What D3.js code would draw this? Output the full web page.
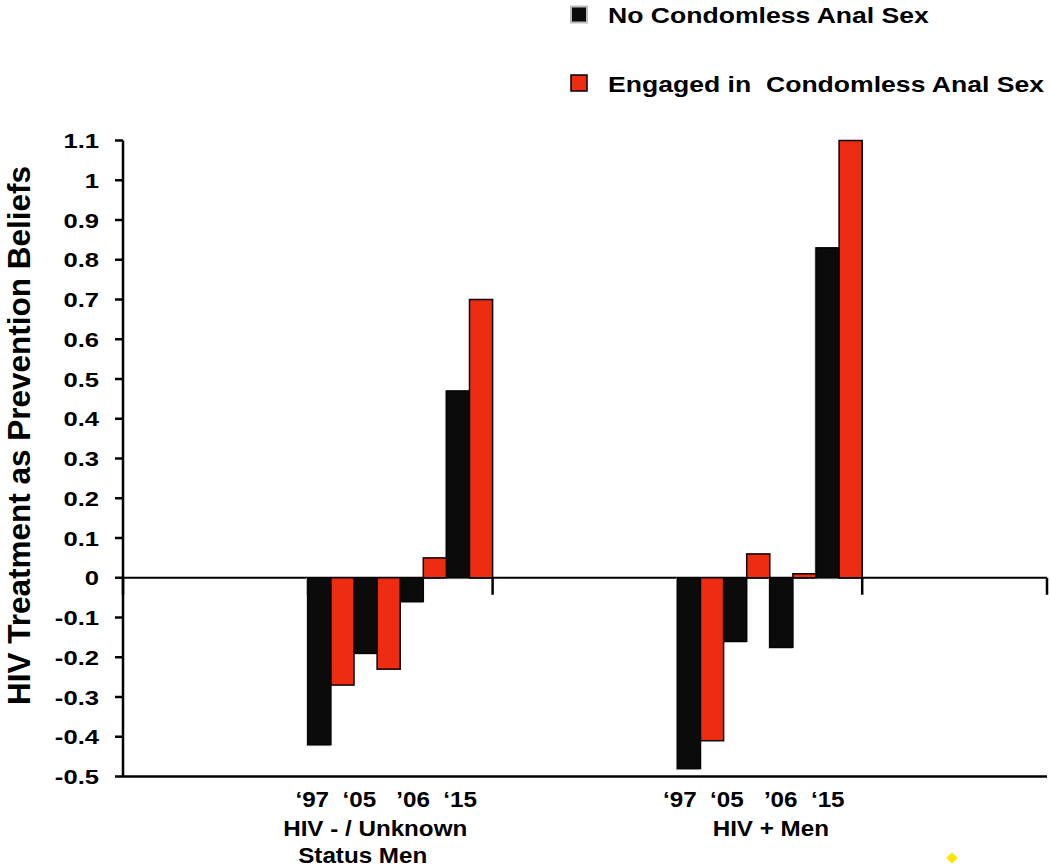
<!DOCTYPE html>
<html><head><meta charset="utf-8">
<script src="https://cdn.jsdelivr.net/npm/d3@7"></script>
<style>
body{margin:0;background:#fff}
text{font-family:"Liberation Sans",Arial,Helvetica,sans-serif;fill:#000}
</style></head>
<body><svg id="chart" width="1050" height="868"></svg>
<script>
// ---- data ----
const slots = ["pad0", "g0", "pad1", "g1", "pad2"];
const groupSlots = ["g0", "g1"];
const groupLabels = [["HIV - / Unknown", "Status Men"], ["HIV + Men"]];
const yearLabels = ["‘97", "‘05", "’06", "‘15"];
const seriesNames = ["No Condomless Anal Sex", "Engaged in  Condomless Anal Sex"];
const seriesColors = ["#0b0b0b", "#ee2c12"];
const noCAS_hivNeg = [-0.42, -0.19, -0.06, 0.47];
const cas_hivNeg   = [-0.27, -0.23, 0.05, 0.70];
const noCAS_hivPos = [-0.48, -0.16, -0.175, 0.83];
const cas_hivPos   = [-0.41, 0.06, 0.01, 1.10];
const yTicks = [-0.5, -0.4, -0.3, -0.2, -0.1, 0, 0.1, 0.2, 0.3, 0.4, 0.5, 0.6, 0.7, 0.8, 0.9, 1, 1.1];
const yTitle = "HIV Treatment as Prevention Beliefs";

const groupData = [[noCAS_hivNeg, cas_hivNeg], [noCAS_hivPos, cas_hivPos]];

// ---- layout ----
const svg = d3.select("#chart");
const left = 123, right = 1047;
const x = d3.scaleBand().domain(slots).range([left, right]).padding(0);
const inner = d3.scaleBand().domain(d3.range(yearLabels.length * 2)).range([0, x.bandwidth()]).padding(0);
const y = d3.scaleLinear().domain([-0.5, 1.1]).range([776.5, 140.5]);

function txt(g, s, tx, ty, size, anchor, sx, weight) {
  return g.append("text")
    .attr("transform", `translate(${tx},${ty}) scale(${sx},1)`)
    .attr("text-anchor", anchor)
    .style("font-size", size + "px")
    .style("font-weight", weight || "bold")
    .text(s);
}

// zero line + category ticks
const axisG = svg.append("g");
axisG.append("line").attr("x1", left).attr("x2", right).attr("y1", y(0)).attr("y2", y(0))
  .attr("stroke", "#000").attr("stroke-width", 2);
const boundaries = slots.map(s => x(s)).concat([right]);
axisG.selectAll("line.ct").data(boundaries).join("line").attr("class", "ct")
  .attr("x1", d => d).attr("x2", d => d).attr("y1", y(0)).attr("y2", y(0) + 17)
  .attr("stroke", "#000").attr("stroke-width", 2.5);

// bars
const bars = [];
groupData.forEach((series, gi) => {
  series.forEach((vals, si) => {
    vals.forEach((v, yi) => bars.push({gi, si, yi, v}));
  });
});
const barG = svg.append("g");
barG.selectAll("rect.halo").data(bars.filter(d => d.si === 0)).join("rect").attr("class", "halo")
  .attr("x", d => x(groupSlots[d.gi]) + inner(d.yi * 2 + d.si) - 1.5)
  .attr("width", inner.bandwidth() + 1)
  .attr("y", d => Math.min(y(d.v), y(0)))
  .attr("height", d => Math.abs(y(d.v) - y(0)) + 1.5)
  .attr("fill", "#c8c8c8");
barG.selectAll("rect.bar").data(bars).join("rect").attr("class", "bar")
  .attr("x", d => x(groupSlots[d.gi]) + inner(d.yi * 2 + d.si))
  .attr("width", inner.bandwidth())
  .attr("y", d => Math.min(y(d.v), y(0)))
  .attr("height", d => Math.abs(y(d.v) - y(0)))
  .attr("fill", d => seriesColors[d.si])
  .attr("stroke", "#050505").attr("stroke-width", 1.5);

// y axis
const yg = svg.append("g");
yg.append("line").attr("x1", left).attr("x2", left).attr("y1", y(1.1)).attr("y2", y(-0.5))
  .attr("stroke", "#000").attr("stroke-width", 2.5);
yg.selectAll("line.yt").data(yTicks).join("line").attr("class", "yt")
  .attr("x1", left - 8).attr("x2", left).attr("y1", d => y(d)).attr("y2", d => y(d))
  .attr("stroke", "#000").attr("stroke-width", 2.5);
yTicks.forEach(t => {
  txt(yg, String(+t.toFixed(1)), 99, y(t) + 7.5, 21, "end", 1.22);
});
// bottom line
yg.append("line").attr("x1", left).attr("x2", right).attr("y1", y(-0.5)).attr("y2", y(-0.5))
  .attr("stroke", "#000").attr("stroke-width", 2.5);

// y title
svg.append("text")
  .attr("transform", `translate(29.5,${(y(1.1) + y(-0.5)) / 2 - 23}) rotate(-90)`)
  .attr("text-anchor", "middle")
  .style("font-size", "31.5px").style("font-weight", "bold")
  .text(yTitle);

// x labels
const xg = svg.append("g");
const yearOffsets = [-14, -16];
const labelOffsets = [[-25, -37.5], [1]];
groupSlots.forEach((s, gi) => {
  const cx = x(s) + x.bandwidth() / 2;
  xg.append("text")
    .attr("transform", `translate(${cx + yearOffsets[gi]},807) scale(1.1,1)`)
    .attr("text-anchor", "middle").attr("xml:space", "preserve")
    .style("font-size", "22px").style("font-weight", "bold").style("white-space", "pre")
    .text(yearLabels.join("  ").replace("‘05  ", "‘05   "));
  groupLabels[gi].forEach((line, li) => {
    txt(xg, line, cx + labelOffsets[gi][li], 836 + li * 27, 22, "middle", 1.1);
  });
});

// legend
const lg = svg.append("g");
const legendY = [14.5, 83];
seriesNames.forEach((n, i) => {
  lg.append("rect").attr("x", 571).attr("y", legendY[i] - 8).attr("width", 16).attr("height", 16)
    .attr("fill", seriesColors[i])
    .attr("stroke", i === 0 ? "#bdbdbd" : "#000").attr("stroke-width", i === 0 ? 2 : 1.5);
  lg.append("text")
    .attr("transform", `translate(608,${legendY[i] + 8.5}) scale(1.156,1)`)
    .attr("xml:space", "preserve").style("white-space", "pre")
    .style("font-size", "23px").style("font-weight", "bold")
    .text(n);
});

// small yellow mark
svg.append("rect").attr("x", -4).attr("y", -4).attr("width", 8).attr("height", 8)
  .attr("fill", "#ffe600").attr("transform", "translate(952,858) rotate(45)");
</script>
</body></html>
